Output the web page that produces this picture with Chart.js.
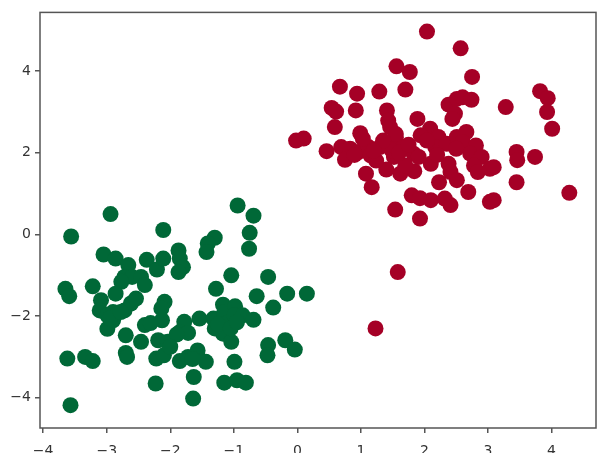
<!DOCTYPE html>
<html>
<head>
<meta charset="utf-8">
<script src="https://cdn.jsdelivr.net/npm/chart.js@4/dist/chart.umd.min.js"></script>
<style>
  html, body { margin: 0; padding: 0; background: #fff; overflow: hidden; }
  #wrap { width: 614px; height: 453px; overflow: hidden; }
</style>
</head>
<body>
<div id="wrap"><canvas id="chart" width="614" height="470"></canvas></div>
<script>
// tick labels
const xTicks = [-4, -3, -2, -1, 0, 1, 2, 3, 4];
const yTicks = [-4, -2, 0, 2, 4];

// class 0 (green, lower left)
const greenX = [-3.56, -2.94, -2.11, -0.94, -0.69, -0.75, -0.76, -1.30, -1.41, -1.43,
  -3.05, -2.86, -2.66, -2.37, -2.21, -2.11, -1.87, -1.85, -1.80, -1.87,
  -2.72, -2.60, -2.46, -2.40, -2.77, -2.86, -3.22, -3.65, -3.59, -1.04,
  -0.46, -1.28, -0.64, -0.16, 0.15, -0.38, -3.09, -3.11, -2.99, -2.90,
  -2.72, -2.62, -2.54, -2.99, -2.90, -2.09, -2.14, -2.13, -2.40, -2.31,
  -2.70, -2.46, -2.19, -2.04, -1.78, -1.85, -1.72, -1.54, -1.32, -1.30,
  -1.17, -1.15, -1.10, -0.98, -0.99, -0.86, -0.69, -1.17, -1.04, -0.99,
  -2.70, -2.68, -2.22, -2.10, -1.85, -1.72, -1.57, -1.44, -1.63, -1.64,
  -2.23, -3.62, -3.34, -3.22, -3.57, -1.15, -0.95, -0.81, -0.46, -0.47,
  -0.19, -0.04, -1.25, -1.05, -0.95, -2.95, -2.78, -1.90, -1.65, -2.00];
const greenY = [-0.05, 0.50, 0.11, 0.71, 0.46, 0.04, -0.35, -0.08, -0.22, -0.43,
  -0.49, -0.59, -0.75, -0.62, -0.86, -0.59, -0.39, -0.59, -0.80, -0.92,
  -1.04, -1.04, -1.04, -1.24, -1.16, -1.45, -1.27, -1.33, -1.51, -1.00,
  -1.04, -1.33, -1.51, -1.45, -1.45, -1.79, -1.61, -1.86, -1.98, -1.90,
  -1.86, -1.69, -1.57, -2.31, -2.10, -1.65, -1.81, -2.10, -2.22, -2.17,
  -2.47, -2.63, -2.59, -2.63, -2.14, -2.39, -2.41, -2.06, -2.06, -2.30,
  -1.72, -1.90, -2.16, -1.76, -1.98, -1.98, -2.09, -2.43, -2.63, -3.12,
  -2.90, -3.00, -3.04, -2.96, -3.10, -3.00, -2.84, -3.12, -3.49, -4.02,
  -3.65, -3.04, -3.00, -3.10, -4.18, -3.63, -3.57, -3.63, -2.71, -2.96,
  -2.59, -2.82, -2.20, -2.30, -2.15, -2.05, -1.90, -2.45, -3.05, -2.75];

// class 1 (red, upper right)
const redX = [2.04, 2.57, 1.56, 1.77, 2.75, 0.67, 0.94, 1.29, 1.70, 0.54,
  0.61, 0.92, 1.41, 1.89, 2.38, 2.51, 2.60, 2.74, 2.48, 2.44,
  3.28, 3.82, 3.94, 3.93, 4.01, 0.59, 1.43, 1.46, 2.09, 1.94,
  0.99, -0.02, 0.10, 0.46, 0.69, 0.83, 0.75, 0.96, 1.12, 1.15,
  1.03, 1.30, 1.49, 1.55, 1.67, 1.83, 1.52, 1.40, 1.62, 1.84,
  1.08, 1.17, 2.10, 2.22, 2.17, 2.35, 2.51, 2.66, 2.60, 2.81,
  2.72, 2.90, 2.78, 2.84, 3.03, 3.09, 2.38, 2.41, 2.51, 2.23,
  2.69, 1.80, 1.93, 2.10, 2.32, 2.41, 3.03, 3.09, 1.54, 1.93,
  3.45, 3.46, 3.74, 3.45, 4.28, 1.58, 1.23, 1.70, 1.91, 2.04,
  1.24, 1.49, 1.55, 1.35, 1.60, 0.90, 1.20, 2.50, 2.20, 1.75];
const redY = [4.97, 4.56, 4.12, 3.98, 3.86, 3.62, 3.45, 3.50, 3.55, 3.10,
  3.01, 3.04, 3.04, 2.83, 3.18, 3.32, 3.36, 3.30, 2.96, 2.83,
  3.12, 3.51, 3.34, 3.00, 2.59, 2.63, 2.79, 2.63, 2.59, 2.43,
  2.48, 2.30, 2.35, 2.04, 2.14, 2.10, 1.83, 2.02, 2.14, 1.94,
  2.35, 2.14, 2.22, 2.38, 2.14, 1.98, 1.90, 1.59, 1.49, 1.55,
  1.49, 1.16, 1.73, 2.39, 2.14, 2.22, 2.39, 2.51, 2.26, 2.18,
  1.98, 1.90, 1.69, 1.53, 1.61, 1.65, 1.73, 1.53, 1.33, 1.28,
  1.04, 0.96, 0.89, 0.84, 0.88, 0.72, 0.80, 0.84, 0.61, 0.39,
  2.02, 1.82, 1.90, 1.28, 1.02, -0.92, -2.30, 1.69, 1.90, 2.30,
  1.81, 2.06, 2.46, 2.30, 2.00, 1.95, 2.05, 2.10, 1.95, 2.20];

const toPoints = (xs, ys) => xs.map((x, i) => ({ x: x, y: ys[i] }));
const fmt = v => (v < 0 ? '\u2212' + Math.abs(v) : String(v));

// box around the plot area like matplotlib spines
const frame = {
  id: 'frame',
  afterDraw(chart) {
    const a = chart.chartArea, c = chart.ctx;
    c.save();
    c.strokeStyle = '#555';
    c.lineWidth = 1.5;
    c.strokeRect(a.left, a.top, a.right - a.left, a.bottom - a.top);
    c.restore();
  }
};

const ctx = document.getElementById('chart').getContext('2d');
new Chart(ctx, {
  type: 'scatter',
  data: {
    datasets: [
      { label: '0', data: toPoints(greenX, greenY), backgroundColor: '#006837', borderWidth: 0, pointRadius: 8 },
      { label: '1', data: toPoints(redX, redY), backgroundColor: '#a50026', borderWidth: 0, pointRadius: 8 }
    ]
  },
  options: {
    responsive: false,
    animation: false,
    layout: { padding: { left: 0, top: 12, right: 18, bottom: 0 } },
    plugins: { legend: { display: false }, tooltip: { enabled: false } },
    scales: {
      x: {
        type: 'linear',
        min: -4.05,
        max: 4.70,
        afterBuildTicks: s => { s.ticks = xTicks.map(v => ({ value: v })); },
        afterFit: s => { s.height = 42; },
        grid: { drawOnChartArea: false, drawTicks: true, tickLength: 5, color: '#555', lineWidth: 1.5 },
        border: { display: false },
        ticks: { color: '#333', font: { family: 'DejaVu Sans', size: 14 }, padding: 10, maxRotation: 0, callback: v => fmt(v) }
      },
      y: {
        type: 'linear',
        min: -4.74,
        max: 5.44,
        afterBuildTicks: s => { s.ticks = yTicks.map(v => ({ value: v })); },
        afterFit: s => { s.width = 40; },
        grid: { drawOnChartArea: false, drawTicks: true, tickLength: 5, color: '#555', lineWidth: 1.5 },
        border: { display: false },
        ticks: { color: '#333', font: { family: 'DejaVu Sans', size: 14 }, padding: 4, callback: v => fmt(v) }
      }
    }
  },
  plugins: [frame]
});
</script>
</body>
</html>
